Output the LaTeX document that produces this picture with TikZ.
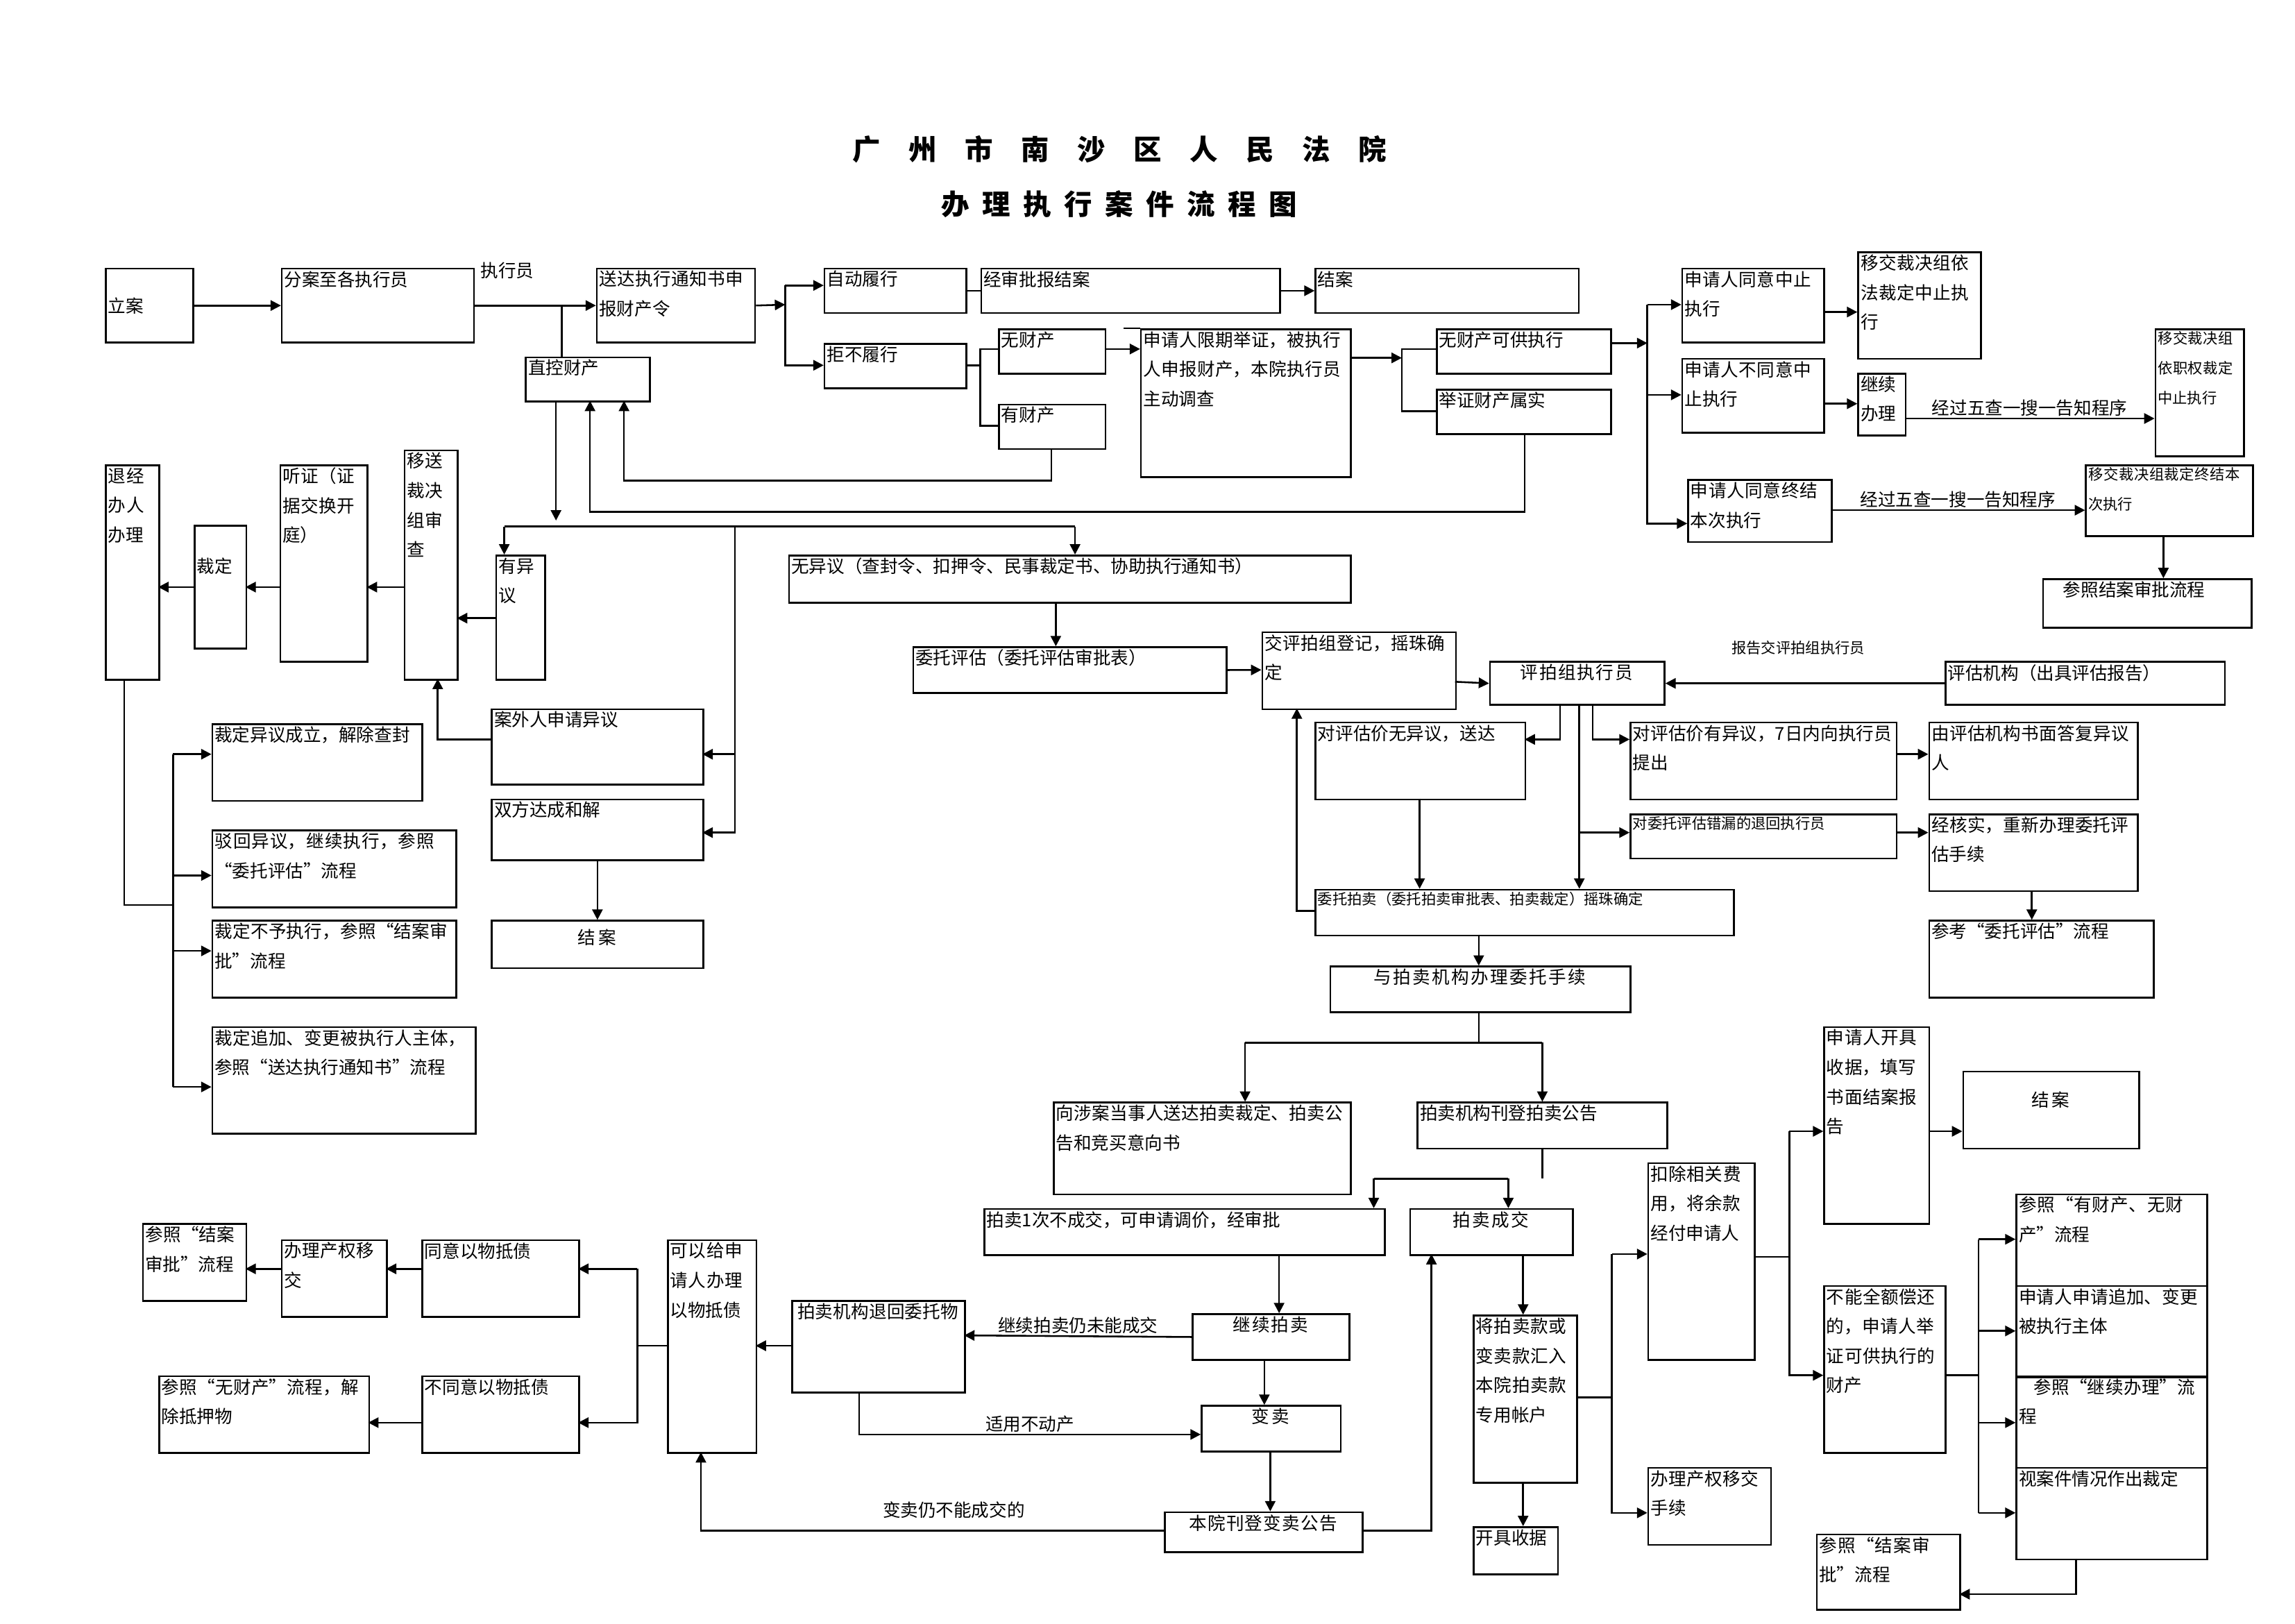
\documentclass[tikz,border=0pt]{standalone}
\usepackage{fontspec}
\setmainfont{Noto Sans CJK SC}
\usetikzlibrary{arrows.meta}
\XeTeXlinebreaklocale "zh"
\XeTeXlinebreakskip = 0pt plus 1pt
\tikzset{
 box/.style={draw,line width=1.2pt,anchor=north west,inner sep=0pt},
 txt/.style={anchor=north west,inner sep=2pt,align=left,font=\fontsize{12}{20}\selectfont},
 small/.style={font=\fontsize{10}{20}\selectfont},
 ln/.style={line width=1.2pt},
 arr/.style={line width=1.2pt,-{Triangle[length=7pt,width=7pt]}},
 lbl/.style={inner sep=1pt,font=\fontsize{12}{14}\selectfont},
}
\newcommand\bx[7][]{\node[box,minimum width=#5pt,minimum height=#6pt] (#2) at (#3,#4) {};
\node[txt,text width={\dimexpr#5pt-4pt\relax},#1] at (#2.north west) {#7};}
\begin{document}
\begin{tikzpicture}[x=1pt,y=-1pt]
\useasboundingbox (0,0) rectangle (1552,1098);
\node[font=\fontsize{19}{20}\selectfont\bfseries] (t1) at (757,101) {广\quad 州\quad 市\quad 南\quad 沙\quad 区\quad 人\quad 民\quad 法\quad 院};
\node[font=\fontsize{19}{20}\selectfont\bfseries] (t2) at (757,138) {办\ \ 理\ \ 执\ \ 行\ \ 案\ \ 件\ \ 流\ \ 程\ \ 图};
% boxes
\bx[yshift=-18pt]{lian}{71}{181}{59}{50}{立案}
\bx{fen}{190}{181}{130}{50}{分案至各执行员}
\node[lbl] (lzxy) at (343,183) {执行员};
\bx{song}{403}{181}{107}{50}{送达执行通知书申报财产令}
\bx{zd}{557}{181}{96}{30}{自动履行}
\bx{jsp}{663}{181}{202}{30}{经审批报结案}
\bx{ja1}{889}{181}{178}{30}{结案}
\bx{jb}{557}{232}{96}{30}{拒不履行}
\bx{wcc}{675}{222}{72}{30}{无财产}
\bx{ycc}{675}{273}{72}{30}{有财产}
\bx{sq}{771}{222}{142}{100}{申请人限期举证，被执行人申报财产，本院执行员主动调查}
\bx{wkg}{971}{222}{118}{30}{无财产可供执行}
\bx{jz}{971}{263}{118}{30}{举证财产属实}
\bx{zk}{355}{241}{84}{30}{直控财产}
\bx{ty}{1137}{181}{96}{50}{申请人同意中止执行}
\bx{yj1}{1256}{170}{83}{72}{移交裁决组依法裁定中止执行}
\bx{bty}{1137}{242}{96}{50}{申请人不同意中止执行}
\bx{jx}{1256}{252}{32}{42}{继续办理}
\bx[small]{yj2}{1457}{222}{60}{86}{移交裁决组依职权裁定中止执行}
\bx{tyzj}{1141}{324}{97}{42}{申请人同意终结本次执行}
\bx[small]{yj3}{1410}{314}{113}{48}{移交裁决组裁定终结本次执行}
\bx{ckja1}{1381}{391}{141}{33}{\hspace*{12pt}参照结案审批流程}
\bx{wyy}{533}{375}{380}{32}{无异议（查封令、扣押令、民事裁定书、协助执行通知书）}
\bx{yyy}{335}{375}{33}{84}{有异议}
\bx{ys}{273}{304}{36}{155}{移送裁决组审查}
\bx{tz}{189}{314}{59}{133}{听证（证据交换开庭）}
\bx[yshift=-20pt]{cd}{131}{355}{35}{83}{裁定}
\bx{tjb}{71}{314}{36}{145}{退经办人办理}
\bx{awr}{332}{479}{143}{51}{案外人申请异议}
\bx{sf}{332}{540}{143}{41}{双方达成和解}
\bx[align=center,yshift=-4pt]{ja2}{332}{622}{143}{32}{结案}
\bx{cd1}{143}{489}{142}{52}{裁定异议成立，解除查封}
\bx{cd2}{143}{561}{165}{52}{驳回异议，继续执行，参照“委托评估”流程}
\bx{cd3}{143}{622}{165}{52}{裁定不予执行，参照“结案审批”流程}
\bx{cd4}{143}{694}{178}{72}{裁定追加、变更被执行人主体，参照“送达执行通知书”流程}
\bx{wtpg}{617}{437}{212}{31}{委托评估（委托评估审批表）}
\bx{jpdj}{853}{427}{131}{52}{交评拍组登记，摇珠确定}
\bx[align=center]{jpz}{1007}{447}{118}{29}{评拍组执行员}
\node[lbl,small] (lbg) at (1216,438) {报告交评拍组执行员};
\bx{pgjg}{1315}{447}{189}{29}{评估机构（出具评估报告）}
\bx{wyy2}{889}{488}{142}{52}{对评估价无异议，送达}
\bx{yyy2}{1102}{488}{180}{52}{对评估价有异议，7日内向执行员提出}
\bx{dfy}{1304}{488}{141}{52}{由评估机构书面答复异议人}
\bx[small]{cl}{1102}{550}{180}{30}{对委托评估错漏的退回执行员}
\bx{hs}{1304}{550}{141}{52}{经核实，重新办理委托评估手续}
\bx{ckpg}{1304}{622}{152}{52}{参考“委托评估”流程}
\bx[small]{wtpm}{889}{601}{283}{31}{委托拍卖（委托拍卖审批表、拍卖裁定）摇珠确定}
\bx[align=center]{bl}{899}{653}{203}{31}{与拍卖机构办理委托手续}
\bx{sd}{712}{745}{201}{62}{向涉案当事人送达拍卖裁定、拍卖公告和竞买意向书}
\bx{kd}{958}{745}{169}{31}{拍卖机构刊登拍卖公告}
\bx{pm1}{665}{817}{271}{31}{拍卖1次不成交，可申请调价，经审批}
\bx[align=center]{cj}{953}{817}{110}{31}{拍卖成交}
\bx[align=center]{jxpm}{806}{888}{106}{31}{继续拍卖}
\bx[align=center]{bm}{812}{950}{94}{31}{变卖}
\bx[align=center]{bmgg}{787}{1022}{134}{27}{本院刊登变卖公告}
\bx[align=center]{th}{535}{879}{117}{62}{拍卖机构退回委托物}
\bx{kydz}{451}{838}{60}{144}{可以给申请人办理以物抵债}
\bx{tydz}{285}{838}{106}{52}{同意以物抵债}
\bx{btydz}{285}{930}{106}{52}{不同意以物抵债}
\bx{cqyj}{190}{838}{71}{52}{办理产权移交}
\bx{ckja2}{96}{827}{70}{52}{参照“结案审批”流程}
\bx{ckwcc}{107}{930}{142}{52}{参照“无财产”流程，解除抵押物}
\bx{hr}{996}{889}{70}{113}{将拍卖款或变卖款汇入本院拍卖款专用帐户}
\bx{sj}{996}{1032}{57}{32}{开具收据}
\bx{kc}{1114}{786}{72}{133}{扣除相关费用，将余款经付申请人}
\bx{cqyj2}{1114}{992}{83}{52}{办理产权移交手续}
\bx{kjsj}{1233}{694}{71}{133}{申请人开具收据，填写书面结案报告}
\bx[align=center,yshift=-12pt]{ja3}{1327}{724}{119}{52}{结案}
\bx{bnqe}{1233}{869}{82}{113}{不能全额偿还的，申请人举证可供执行的财产}
\bx{ck1}{1363}{807}{129}{62}{参照“有财产、无财产”流程}
\bx{ck2}{1363}{869}{129}{62}{申请人申请追加、变更被执行主体}
\bx{ck3}{1363}{930}{129}{62}{\hspace*{10pt}参照“继续办理”流程}
\bx{ck4}{1363}{992}{129}{62}{视案件情况作出裁定}
\bx{ckja3}{1228}{1037}{97}{51}{参照“结案审批”流程}
% connectors
\draw[arr] (lian.east) -- (fen.west);
\draw[arr] (fen.east) -- (song.west);
\draw[ln] (380,206) -- (380,241);
\draw[arr] (376,271) -- (376,352);
\draw[ln] (341,356) -- (727,356);
\draw[arr] (341,356) -- (341,375);
\draw[arr] (727,356) -- (727,375);
\draw[arr] (497,356) -- (497,510) -- (475,510);
\draw[arr] (497,510) -- (497,563) -- (475,563);
\draw[arr] (1031,293) -- (1031,346) -- (399,346) -- (399,271);
\draw[arr] (711,303) -- (711,325) -- (422,325) -- (422,271);
\draw[arr] (song.east) -- (531,206);
\draw[arr] (531,193) -- (557,193);
\draw[arr] (531,193) -- (531,247) -- (557,247);
\draw[ln] (zd.east) -- (jsp.west);
\draw[arr] (jsp.east) -- (ja1.west);
\draw[ln] (653,247) -- (663,247);
\draw[ln] (675,236) -- (663,236) -- (663,288) -- (675,288);
\draw[arr] (747,236) -- (771,236);
\draw[ln] (760,222) -- (771,222);
\draw[arr] (913,242) -- (948,242);
\draw[ln] (971,236) -- (948,236) -- (948,278) -- (971,278);
\draw[arr] (1089,232) -- (1114,232);
\draw[arr] (1114,206) -- (1137,206);
\draw[arr] (1114,206) -- (1114,267) -- (1137,267);
\draw[arr] (1114,267) -- (1114,354) -- (1141,354);
\draw[arr] (1233,211) -- (1256,211);
\draw[arr] (1233,273) -- (1256,273);
\draw[arr] (1288,283) -- node[lbl,above] {经过五查一搜一告知程序} (1457,283);
\draw[arr] (1238,345) -- node[lbl,above] {经过五查一搜一告知程序} (1410,345);
\draw[arr] (1463,362) -- (1463,391);
\draw[arr] (335,418) -- (309,418);
\draw[arr] (273,397) -- (248,397);
\draw[arr] (189,397) -- (166,397);
\draw[arr] (131,397) -- (107,397);
\draw[arr] (332,500) -- (296,500) -- (296,459);
\draw[ln] (84,459) -- (84,612) -- (117,612);
\draw[ln] (117,510) -- (117,735);
\draw[arr] (117,510) -- (143,510);
\draw[arr] (117,592) -- (143,592);
\draw[arr] (117,643) -- (143,643);
\draw[arr] (117,735) -- (143,735);
\draw[arr] (404,581) -- (404,622);
\draw[arr] (714,407) -- (714,437);
\draw[arr] (wtpg.east) -- (853,453);
\draw[arr] (984,461) -- (jpz.west);
\draw[arr] (pgjg.west) -- node[lbl,above=8pt] {} (jpz.east);
\draw[arr] (1055,476) -- (1055,500) -- (1031,500);
\draw[arr] (1077,476) -- (1077,500) -- (1102,500);
\draw[arr] (1068,476) -- (1068,601);
\draw[arr] (1068,563) -- (1102,563);
\draw[arr] (1282,510) -- (1304,510);
\draw[arr] (1282,563) -- (1304,563);
\draw[arr] (1374,602) -- (1374,622);
\draw[arr] (960,540) -- (960,601);
\draw[arr] (889,616) -- (877,616) -- (877,479);
\draw[arr] (1000,632) -- (1000,653);
\draw[ln] (1000,684) -- (1000,705);
\draw[ln] (842,705) -- (1043,705);
\draw[arr] (842,705) -- (842,745);
\draw[arr] (1043,705) -- (1043,745);
\draw[ln] (1043,776) -- (1043,797);
\draw[ln] (929,797) -- (1020,797);
\draw[arr] (929,797) -- (929,817);
\draw[arr] (1020,797) -- (1020,817);
\draw[arr] (865,848) -- (865,888);
\draw[arr] (855,919) -- (855,950);
\draw[arr] (859,981) -- (859,1022);
\draw[arr] (jxpm.west) -- node[lbl,above] {继续拍卖仍未能成交} (652,903);
\draw[arr] (581,941) -- (581,970) -- node[lbl,above,pos=0.5] {适用不动产} (812,970);
\draw[arr] (787,1035) -- (474,1035) -- (474,982);
\node[lbl] (lbm) at (645,1021) {变卖仍不能成交的};
\draw[arr] (921,1035) -- (968,1035) -- (968,848);
\draw[arr] (535,910) -- (511,910);
\draw[ln] (451,910) -- (431,910);
\draw[arr] (431,858) -- (391,858);
\draw[arr] (431,858) -- (431,962) -- (391,962);
\draw[arr] (285,858) -- (261,858);
\draw[arr] (190,858) -- (166,858);
\draw[arr] (285,962) -- (249,962);
\draw[arr] (1030,848) -- (1030,889);
\draw[arr] (1030,1002) -- (1030,1032);
\draw[ln] (1066,945) -- (1090,945);
\draw[arr] (1090,848) -- (1114,848);
\draw[arr] (1090,848) -- (1090,1023) -- (1114,1023);
\draw[ln] (1186,850) -- (1210,850);
\draw[arr] (1210,765) -- (1233,765);
\draw[arr] (1210,765) -- (1210,930) -- (1233,930);
\draw[arr] (1304,765) -- (1327,765);
\draw[ln] (1315,930) -- (1338,930);
\draw[ln] (1338,838) -- (1338,1023);
\draw[arr] (1338,838) -- (1363,838);
\draw[arr] (1338,900) -- (1363,900);
\draw[arr] (1338,962) -- (1363,962);
\draw[arr] (1338,1023) -- (1363,1023);
\draw[arr] (1404,1054) -- (1404,1078) -- (1325,1078);
\end{tikzpicture}
\end{document}
